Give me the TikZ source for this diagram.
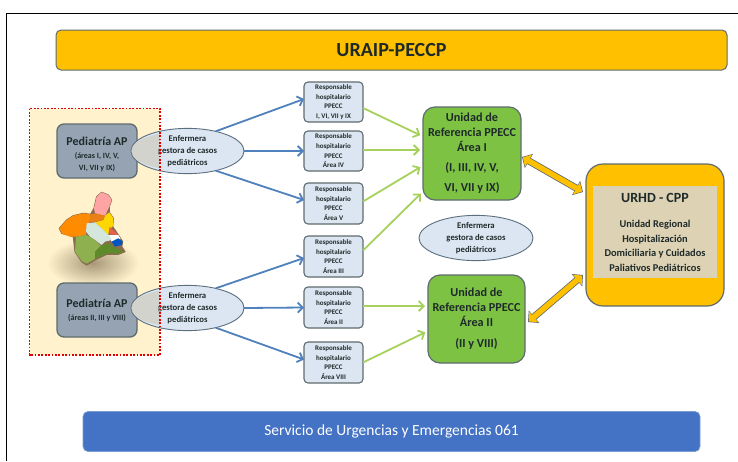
\documentclass[tikz,border=0pt]{standalone}
\usepackage{fontspec}
\setmainfont{Carlito}
\usetikzlibrary{arrows.meta,shapes.geometric,calc}
\definecolor{amber}{HTML}{FFC000}
\definecolor{edgegray}{HTML}{5F6B6E}
\definecolor{slatebox}{HTML}{95A3B3}
\definecolor{paleblue}{HTML}{DCE6F2}
\definecolor{cream}{HTML}{FFF2CC}
\definecolor{leaf}{HTML}{7DC242}
\definecolor{arrowblue}{HTML}{4F81BD}
\definecolor{arrowgreen}{HTML}{A6D15C}
\definecolor{barblue}{HTML}{4472C4}
\definecolor{beige}{HTML}{DDD2B4}
\definecolor{ink}{HTML}{1E2A2A}
\definecolor{mapedge}{HTML}{8A6A50}
\definecolor{mapshadow}{HTML}{A89878}
\definecolor{zonepale}{HTML}{D5E6DC}
\definecolor{zonegreen}{HTML}{8FB04E}
\definecolor{zonedark}{HTML}{5E8A2C}
\tikzset{
  x=1pt,y=-1pt,
  every node/.style={inner sep=0pt,outer sep=0pt,align=center,text=ink,font=\bfseries},
  bar/.style={rounded corners=5pt,draw=edgegray,line width=1pt},
  apbox/.style={rounded corners=7pt,draw=edgegray,line width=1.3pt,fill=slatebox},
  nurse/.style={ellipse,draw=edgegray!80!arrowblue,line width=.9pt,fill=paleblue,font=\bfseries\fontsize{8.7}{12.3}\selectfont},
  respbox/.style={rounded corners=4pt,draw=edgegray,line width=1.1pt,fill=paleblue,font=\bfseries\fontsize{7}{9.7}\selectfont},
  refbox/.style={rounded corners=12pt,draw=edgegray,line width=1.2pt,fill=leaf},
  bluearrow/.style={draw=arrowblue,line width=1.8pt,-{Straight Barb[length=5pt,width=10pt]}},
  greenarrow/.style={draw=arrowgreen,line width=1.8pt,-{Straight Barb[length=5pt,width=10pt]},shorten >=3pt},
  bioutline/.style={draw=edgegray,line width=7pt,{Triangle[length=8pt,width=16pt]}-{Triangle[length=8pt,width=16pt]}},
  biarrow/.style={draw=amber,line width=5.4pt,{Triangle[length=6.5pt,width=13.5pt]}-{Triangle[length=6.5pt,width=13.5pt]},shorten <=1pt,shorten >=1pt},
  mapzone/.style={draw=mapedge,line width=1.1pt,line join=round},
}
\begin{document}
\begin{tikzpicture}
\useasboundingbox (0,0) rectangle (738,461);
\fill[white] (0,0) rectangle (738,461);
\coordinate (frameA) at (6.5,461);\coordinate (frameB) at (6.5,13.5);\coordinate (frameC) at (738,13.5);
\draw[black,line width=1.6pt] (frameA) -- (frameB) -- (frameC);

% bars
\node[bar,fill=amber,minimum width=671pt,minimum height=40pt,font=\bfseries\fontsize{20}{24}\selectfont] (top) at (391.5,50) {URAIP-PECCP};
\node[rounded corners=5pt,fill=barblue,draw=barblue!70!white,line width=.7pt,minimum width=617pt,minimum height=40pt,text=white,font=\fontsize{15.5}{18}\selectfont] (bottom) at (391.5,431.5) {Servicio de Urgencias y Emergencias 061};

% panel
\coordinate (pTL) at (29.5,108.5);\coordinate (pBR) at (160,355);
\fill[cream] (pTL) rectangle (pBR);

% map
\shade[inner color=mapshadow,outer color=cream] (93,263) ellipse (46pt and 24pt);
\begin{scope}[shift={(50,185)},x=.3333pt,y=-.3333pt]
% outer outline of the whole region
\filldraw[mapzone,fill=mapedge] (28,130) -- (50,105) -- (70,92) -- (100,85) -- (122,88) -- (132,70) -- (140,35) -- (155,22) -- (175,30) -- (185,45) -- (178,65) -- (178,82) -- (190,100) -- (188,125) -- (205,150) -- (218,170) -- (215,185) -- (225,200) -- (205,208) -- (170,208) -- (140,222) -- (110,240) -- (95,230) -- (75,200) -- (70,155) -- (35,145) -- cycle;
\fill[orange!90!yellow] (28,130) -- (50,105) -- (70,92) -- (100,85) -- (122,88) -- (118,112) -- (108,130) -- (108,150) -- (78,155) -- (60,155) -- (35,145) -- cycle;
\fill[pink!70!red!75] (132,70) -- (140,35) -- (155,22) -- (175,30) -- (185,45) -- (178,65) -- (165,92) -- (135,85) -- cycle;
\fill[yellow!75!orange] (165,92) -- (178,82) -- (190,100) -- (188,125) -- (178,132) -- (175,150) -- (155,130) -- (135,112) -- (160,105) -- cycle;
\fill[orange!65!brown] (122,88) -- (135,85) -- (165,92) -- (160,105) -- (140,110) -- (118,112) -- cycle;
\fill[red!55!brown!80] (178,125) -- (195,140) -- (205,150) -- (180,148) -- cycle;
\fill[white] (175,150) -- (205,150) -- (212,162) -- (185,170) -- cycle;
\fill[blue!55!cyan!75!black] (185,170) -- (205,160) -- (218,170) -- (215,180) -- (195,185) -- cycle;
\fill[zonepale] (110,115) -- (135,112) -- (155,130) -- (180,155) -- (185,165) -- (165,170) -- (155,180) -- (135,165) -- (120,155) -- (108,140) -- cycle;
\fill[zonegreen] (78,155) -- (110,150) -- (135,165) -- (155,185) -- (135,205) -- (135,222) -- (110,236) -- (95,228) -- (75,200) -- cycle;
\fill[zonedark] (135,200) -- (155,180) -- (175,175) -- (200,190) -- (222,200) -- (205,206) -- (170,206) -- (140,220) -- cycle;
\end{scope}

% primary-care boxes
\node[apbox,minimum width=80pt,minimum height=54pt] (ap1) at (97,151) {\rule{0pt}{15pt}\fontsize{12}{14}\selectfont Pediatría AP\\[1pt]\fontsize{8}{12}\selectfont (áreas I, IV, V,\\\fontsize{8}{11}\selectfont VI, VII y IX)};
\node[apbox,minimum width=80pt,minimum height=54pt] (ap2) at (97,310) {\fontsize{12}{14}\selectfont Pediatría AP\\[1pt]\fontsize{8}{9}\selectfont (áreas II, III y VIII)};

% nurses
\node[nurse,minimum width=113pt,minimum height=40pt] (n1) at (187.5,151) {Enfermera\\gestora de casos\\pediátricos};
\node[nurse,minimum width=113pt,minimum height=40pt] (n2) at (187.5,308) {Enfermera\\gestora de casos\\pediátricos};
\node[nurse,minimum width=114pt,minimum height=40pt] (n3) at (476,238) {Enfermera\\gestora de casos\\pediátricos};

% panel overlay: tint and dotted outline over the nurse ellipses
\begin{scope}
\clip (pTL) rectangle (pBR);
\fill[black!22!cream,opacity=.45] (n1) ellipse (56.5pt and 20pt);
\fill[black!22!cream,opacity=.45] (n2) ellipse (56.5pt and 20pt);
\end{scope}
\draw[red!90!black,line width=1.8pt,dash pattern=on 1.8pt off 1.6pt] (pTL) rectangle (pBR);

% hospital leads
\node[respbox,minimum width=59pt,minimum height=40pt] (r1) at (333.5,102) {Responsable\\hospitalario\\PPECC\\I, VI, VII y IX};
\node[respbox,minimum width=59pt,minimum height=40pt] (r2) at (333.5,151) {Responsable\\hospitalario\\PPECC\\Área IV};
\node[respbox,minimum width=59pt,minimum height=41pt] (r3) at (333.5,203.5) {Responsable\\hospitalario\\PPECC\\Área V};
\node[respbox,minimum width=59pt,minimum height=41pt] (r4) at (333.5,256.5) {Responsable\\hospitalario\\PPECC\\Área III};
\node[respbox,minimum width=59pt,minimum height=41pt] (r5) at (333.5,307.5) {Responsable\\hospitalario\\PPECC\\Área II};
\node[respbox,minimum width=59pt,minimum height=41pt] (r6) at (333.5,362.5) {Responsable\\hospitalario\\PPECC\\Área VIII};

% reference units
\node[refbox,minimum width=98pt,minimum height=93pt,font=\bfseries\fontsize{12.2}{15}\selectfont] (g1) at (472,153.5) {Unidad de\\Referencia PPECC\\Área I\\[5pt](I, III, IV, V,\\[5pt]VI, VII y IX)};
\node[refbox,minimum width=97pt,minimum height=88pt,font=\bfseries\fontsize{12.2}{15}\selectfont] (g2) at (476.5,319) {Unidad de\\Referencia PPECC\\Área II\\[6pt](II y VIII)};

% regional unit
\node[rounded corners=17pt,draw=edgegray,line width=1.2pt,fill=amber,minimum width=138pt,minimum height=142pt] (u) at (655,235) {};
\node[fill=beige,minimum width=124pt,minimum height=92pt,font=\bfseries\fontsize{10.4}{14.5}\selectfont] (ub) at (655,232) {{\fontsize{14}{16}\selectfont URHD - CPP}\\[11pt]Unidad Regional\\Hospitalización\\Domiciliaria y Cuidados\\Paliativos Pediátricos};

% blue arrows
\draw[bluearrow] (n1.35) -- ([yshift=3pt]r1.west);
\draw[bluearrow] (n1.east) -- (r2.west);
\draw[bluearrow] (n1.-35) -- ([yshift=3.5pt]r3.west);
\draw[bluearrow] (n2.35) -- ([yshift=-1.5pt]r4.west);
\draw[bluearrow] (n2.east) -- (r5.west);
\draw[bluearrow] (n2.-35) -- ([yshift=3pt]r6.west);

% green arrows
\draw[greenarrow] ([yshift=-6pt]r1.east) -- ([yshift=17pt]g1.west);
\draw[greenarrow] ([yshift=1pt]r2.east) -- ([yshift=3.5pt]g1.west);
\draw[greenarrow] ([yshift=2pt]r3.east) -- ([yshift=-12pt]g1.west);
\draw[greenarrow] ([yshift=6pt]r4.east) -- ([yshift=-38pt]g1.west);
\draw[greenarrow] ([yshift=1.5pt]r5.east) -- ([yshift=13pt]g2.west);
\draw[greenarrow] (r6.east) -- ([yshift=-12pt]g2.west);

% double arrows
\coordinate (a1) at ([yshift=-3.5pt,xshift=1pt]g1.east);
\coordinate (a2) at ([yshift=43pt,xshift=-3pt]u.west);
\coordinate (a3) at ([yshift=-3pt,xshift=3pt]g2.east);
\coordinate (a4) at ([yshift=-40pt,xshift=-3pt]u.west);
\draw[bioutline] (a1) -- (a2);
\draw[biarrow] (a1) -- (a2);
\draw[bioutline] (a3) -- (a4);
\draw[biarrow] (a3) -- (a4);
\end{tikzpicture}
\end{document}
